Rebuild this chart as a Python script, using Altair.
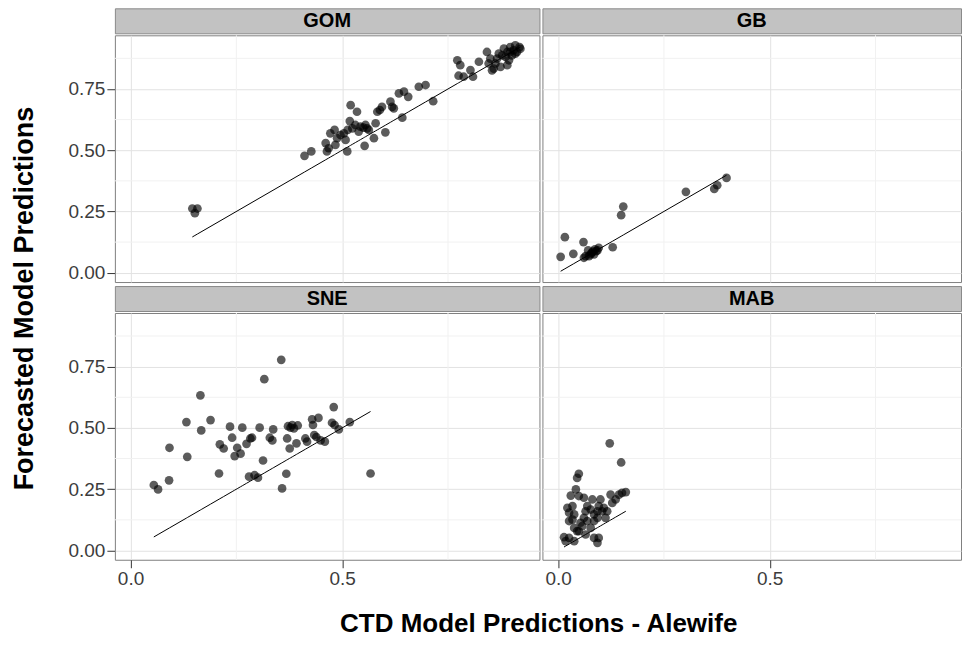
import altair as alt
import pandas as pd

# --- Alewife occupancy: CTD model vs forecasted model predictions, by region ---
gom_ctd = [0.146, 0.158, 0.152, 0.411, 0.427, 0.461, 0.464, 0.468, 0.472, 0.482,
           0.484, 0.488, 0.496, 0.504, 0.508, 0.512, 0.513, 0.518, 0.520, 0.524,
           0.531, 0.535, 0.539, 0.543, 0.550, 0.553, 0.555, 0.559, 0.563, 0.575,
           0.579, 0.583, 0.589, 0.594, 0.602, 0.614, 0.618, 0.622, 0.634, 0.642,
           0.646, 0.656, 0.681, 0.697, 0.715, 0.772, 0.775, 0.779, 0.787, 0.803,
           0.809, 0.823, 0.842, 0.846, 0.858, 0.866, 0.874, 0.878, 0.882, 0.890,
           0.894, 0.897, 0.901, 0.905, 0.909, 0.913, 0.919, 0.921, 0.850, 0.862,
           0.870, 0.886, 0.897, 0.909, 0.890, 0.854]
gom_fcst = [0.262, 0.262, 0.243, 0.477, 0.495, 0.529, 0.495, 0.508, 0.569, 0.583,
            0.522, 0.549, 0.562, 0.569, 0.542, 0.495, 0.583, 0.619, 0.684, 0.589,
            0.603, 0.657, 0.576, 0.596, 0.592, 0.518, 0.603, 0.589, 0.583, 0.549,
            0.610, 0.657, 0.664, 0.677, 0.573, 0.698, 0.677, 0.671, 0.732, 0.633,
            0.739, 0.718, 0.759, 0.766, 0.700, 0.867, 0.804, 0.847, 0.800, 0.827,
            0.800, 0.861, 0.901, 0.854, 0.833, 0.874, 0.840, 0.887, 0.915, 0.901,
            0.867, 0.921, 0.887, 0.908, 0.928, 0.901, 0.921, 0.914, 0.874, 0.854,
            0.894, 0.881, 0.901, 0.894, 0.847, 0.826]

gb_ctd = [0.006, 0.016, 0.036, 0.060, 0.065, 0.071, 0.077, 0.082, 0.087, 0.093,
          0.096, 0.085, 0.073, 0.061, 0.079, 0.090, 0.129, 0.149, 0.154, 0.302,
          0.369, 0.376, 0.398]
gb_fcst = [0.065, 0.145, 0.077, 0.125, 0.068, 0.091, 0.075, 0.086, 0.095, 0.091,
           0.102, 0.075, 0.068, 0.061, 0.081, 0.088, 0.104, 0.235, 0.270, 0.330,
           0.342, 0.357, 0.387]

sne_ctd = [0.055, 0.065, 0.091, 0.092, 0.132, 0.134, 0.165, 0.167, 0.189, 0.209,
           0.211, 0.220, 0.235, 0.240, 0.246, 0.252, 0.260, 0.264, 0.274, 0.280,
           0.283, 0.287, 0.293, 0.301, 0.305, 0.313, 0.316, 0.329, 0.335, 0.337,
           0.356, 0.358, 0.368, 0.370, 0.372, 0.376, 0.378, 0.382, 0.386, 0.392,
           0.395, 0.413, 0.417, 0.429, 0.431, 0.434, 0.439, 0.444, 0.449, 0.459,
           0.476, 0.480, 0.482, 0.492, 0.518, 0.567]
sne_fcst = [0.267, 0.249, 0.286, 0.419, 0.524, 0.382, 0.633, 0.490, 0.532, 0.314,
            0.433, 0.416, 0.505, 0.460, 0.385, 0.419, 0.395, 0.501, 0.435, 0.301,
            0.457, 0.460, 0.307, 0.297, 0.501, 0.367, 0.699, 0.460, 0.449, 0.494,
            0.778, 0.253, 0.313, 0.457, 0.507, 0.416, 0.501, 0.512, 0.498, 0.437,
            0.510, 0.457, 0.444, 0.535, 0.512, 0.471, 0.463, 0.541, 0.449, 0.444,
            0.521, 0.585, 0.512, 0.494, 0.524, 0.314]

mab_ctd = [0.122, 0.149, 0.049, 0.045, 0.042, 0.030, 0.049, 0.061, 0.124, 0.144,
           0.160, 0.151, 0.022, 0.026, 0.034, 0.038, 0.026, 0.018, 0.038, 0.049,
           0.053, 0.061, 0.065, 0.069, 0.077, 0.085, 0.093, 0.096, 0.104, 0.108,
           0.116, 0.128, 0.136, 0.085, 0.077, 0.065, 0.085, 0.093, 0.057, 0.045,
           0.069, 0.093, 0.038, 0.026, 0.081, 0.100, 0.112, 0.034, 0.096, 0.014]
mab_fcst = [0.437, 0.359, 0.313, 0.296, 0.249, 0.224, 0.222, 0.215, 0.228, 0.228,
            0.238, 0.235, 0.174, 0.154, 0.126, 0.092, 0.051, 0.038, 0.038, 0.079,
            0.113, 0.133, 0.160, 0.181, 0.167, 0.147, 0.160, 0.181, 0.160, 0.174,
            0.160, 0.194, 0.208, 0.120, 0.092, 0.065, 0.051, 0.031, 0.099, 0.079,
            0.120, 0.133, 0.147, 0.120, 0.208, 0.208, 0.133, 0.181, 0.051, 0.054]

x_major = [0.0, 0.5]
x_minor = [0.25, 0.75]
y_major = [0.0, 0.25, 0.5, 0.75]
y_minor = [0.125, 0.375, 0.625, 0.875]

FONT = "Liberation Sans"
Y_DOMAIN = [-0.038, 0.969]
X_DOMAIN_LEFT = [-0.037, 0.966]
X_DOMAIN_RIGHT = [-0.037, 0.952]
LEFT_W, RIGHT_W = 425, 419
STRIP_H, PLOT_H = 25, 247


def panel(name, ctd, fcst, width, xdom, show_y, show_x):
    xs = alt.Scale(domain=xdom, nice=False, zero=False)
    ys = alt.Scale(domain=Y_DOMAIN, nice=False, zero=False)
    x_axis = alt.Axis(values=x_major, format=".1f", title=None, grid=True,
                      labels=show_x, ticks=show_x, domain=False)
    y_axis = alt.Axis(values=y_major, format=".2f", title=None, grid=True,
                      labels=show_y, ticks=show_y, domain=False)

    minor_x = alt.Chart(pd.DataFrame({"ctd": x_minor})).mark_rule(
        color="#f1f1f1", strokeWidth=1
    ).encode(x=alt.X("ctd:Q", scale=xs, axis=x_axis))
    minor_y = alt.Chart(pd.DataFrame({"forecast": y_minor})).mark_rule(
        color="#f1f1f1", strokeWidth=1
    ).encode(y=alt.Y("forecast:Q", scale=ys, axis=y_axis))

    pts = pd.DataFrame({"ctd": ctd, "forecast": fcst})
    points = alt.Chart(pts).mark_circle(size=76, color="black", opacity=0.64).encode(
        x=alt.X("ctd:Q", scale=xs, axis=x_axis),
        y=alt.Y("forecast:Q", scale=ys, axis=y_axis),
    )
    # 1:1 reference line across the range of CTD predictions
    one_to_one = alt.Chart(pts).mark_line(color="black", strokeWidth=1).encode(
        x=alt.X("ctd:Q", scale=xs, axis=x_axis),
        y=alt.Y("ctd:Q", scale=ys, axis=y_axis),
    )
    plot = alt.layer(minor_x, minor_y, points, one_to_one).properties(
        width=width, height=PLOT_H
    )

    strip = alt.Chart(pd.DataFrame({"region": [name]})).mark_text(
        font=FONT, fontSize=20, fontWeight="bold", color="black"
    ).encode(text="region:N").properties(
        width=width, height=STRIP_H,
        view=alt.ViewBackground(fill="#c2c2c2", stroke="#8a8a8a"),
    )
    return alt.vconcat(strip, plot, spacing=0)


row1 = alt.hconcat(
    panel("GOM", gom_ctd, gom_fcst, LEFT_W, X_DOMAIN_LEFT, True, False),
    panel("GB", gb_ctd, gb_fcst, RIGHT_W, X_DOMAIN_RIGHT, False, False),
    spacing=1,
)
row2 = alt.hconcat(
    panel("SNE", sne_ctd, sne_fcst, LEFT_W, X_DOMAIN_LEFT, True, True),
    panel("MAB", mab_ctd, mab_fcst, RIGHT_W, X_DOMAIN_RIGHT, False, True),
    spacing=1,
)

grid = alt.vconcat(row1, row2, spacing=1).properties(
    title=alt.TitleParams(
        "Forecasted Model Predictions", orient="left", anchor="middle",
        font=FONT, fontSize=27, fontWeight="bold", color="black", offset=28,
    )
)

chart = alt.hconcat(grid).properties(
    title=alt.TitleParams(
        "CTD Model Predictions - Alewife", orient="bottom", anchor="middle",
        font=FONT, fontSize=26, fontWeight="bold", color="black", offset=22,
        dx=52,
    )
).configure(
    padding={"left": 11, "top": 7, "right": 0, "bottom": 5},
    background="white",
).configure_view(
    stroke="#808080", strokeWidth=1
).configure_axis(
    labelFont=FONT, labelFontSize=19, labelColor="#3c3c3c",
    tickColor="#333333", tickSize=8, labelPadding=2,
    gridColor="#e2e2e2", gridWidth=1,
)

chart.save("out.html", embed_options={"renderer": "svg", "actions": False})
